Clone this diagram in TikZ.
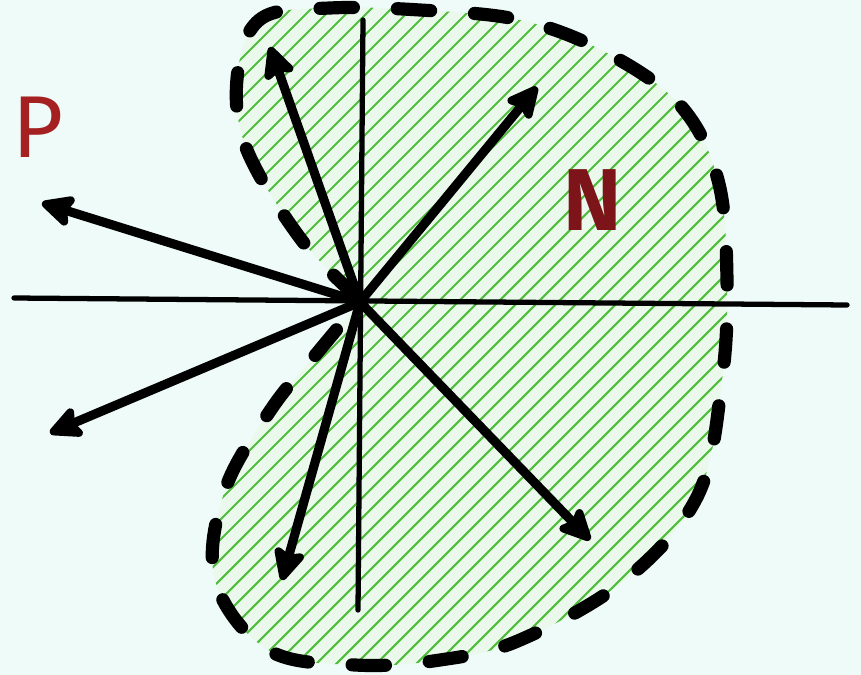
\documentclass[tikz,border=0pt]{standalone}
\usepackage{fontspec}
\setsansfont{Fira Sans}
\usetikzlibrary{arrows.meta}
\definecolor{paper}{RGB}{238,251,249}
\definecolor{hatchgreen}{RGB}{80,190,60}
\definecolor{regionfill}{RGB}{234,249,236}
\definecolor{markred}{RGB}{165,32,32}
\definecolor{markmaroon}{RGB}{125,20,25}

\begin{document}
\begin{tikzpicture}[x=0.02cm, y=-0.02cm,
  axis/.style={line width=3pt, line cap=round},
  vec/.style={line width=5.2pt, line cap=round, -{Stealth[length=22pt, width=21pt, inset=4pt, round]}},
  hatch/.style={hatchgreen, line width=1.2pt},
  border/.style={line width=7.5pt, line cap=round, dash pattern=on 19pt off 25pt},
  letter/.style={font=\sffamily\fontsize{50}{50}\selectfont}]
  \fill[paper] (0,0) rectangle (861,675);
  \useasboundingbox (0,0) rectangle (861,675);

  % origin and vector tips
  \coordinate (O) at (360,302);
  \coordinate (up) at (270,47);
  \coordinate (ne) at (537,87);
  \coordinate (west) at (42,203);
  \coordinate (sw) at (50,433);
  \coordinate (down) at (282,580);
  \coordinate (se) at (590,540);

  % axis ends
  \coordinate (xl) at (14,298);
  \coordinate (xr) at (847,305);
  \coordinate (yt) at (363,20);
  \coordinate (yb) at (358,610);

  % region N
  \path[save path=\blobpath] plot[smooth, tension=0.6] coordinates {
    (358,298) (300,238) (245,145) (238,70) (262,18) (330,8) (420,10)
    (520,20) (605,52) (680,105) (718,180) (727,280) (722,380) (698,495)
    (625,580) (520,640) (440,660) (355,665) (268,650) (215,580) (225,490)
    (272,408) (318,352) (358,304)};
  \fill[regionfill, use path=\blobpath];
  \begin{scope}
    \clip[use path=\blobpath];
    \foreach \k in {-700,-680,...,900}
      \draw[hatch] (\k,700) -- ++(720,-720);
  \end{scope}

  % axes
  \draw[axis] (xl) -- (xr);
  \draw[axis] (yt) -- (yb);

  % vectors
  \foreach \tip in {up, ne, west, sw, down, se}
    \draw[vec] (O) -- (\tip);

  % dashed border
  \draw[border, use path=\blobpath];

  \node[letter, text=markred] (P) at (38,127) {P};
  \node[letter, text=markmaroon] (N) at (593,200) {\bfseries N};
\end{tikzpicture}
\end{document}
